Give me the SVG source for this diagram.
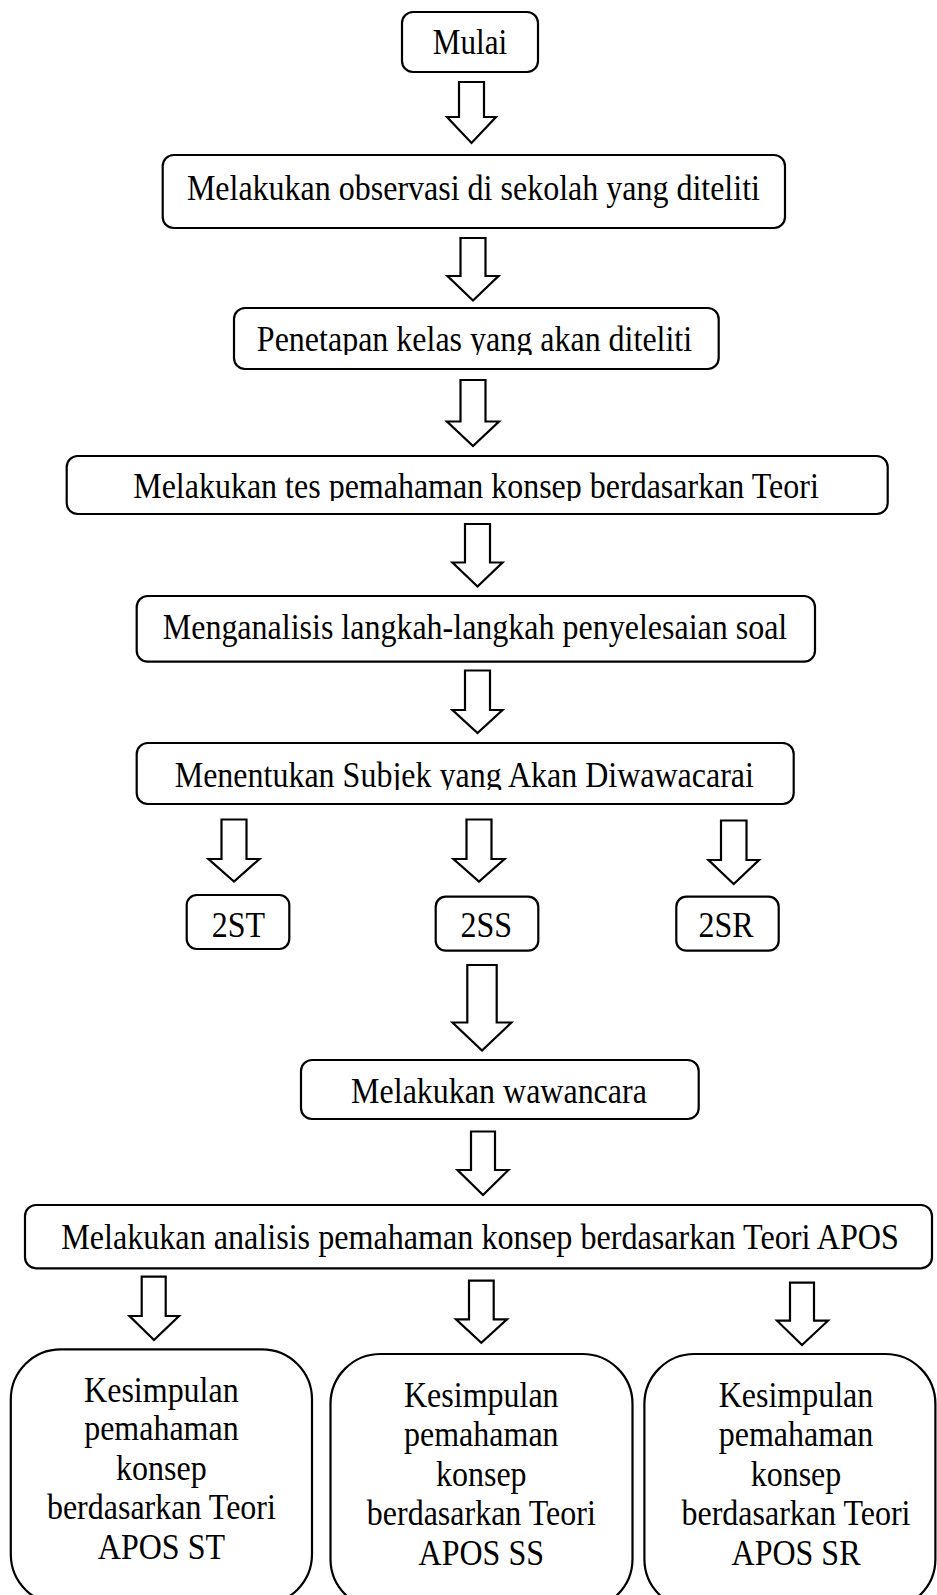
<svg xmlns="http://www.w3.org/2000/svg" width="937" height="1595" viewBox="0 0 937 1595">
<style>
.box{fill:#fff;stroke:#000;stroke-width:2.2}
.arr{fill:#fff;stroke:#000;stroke-width:2.2;stroke-linejoin:miter}
.t{font-family:"Liberation Serif","Times New Roman",serif;font-size:36px;fill:#000;text-anchor:middle}
</style>
<defs>
<clipPath id="c3"><rect x="234" y="308" width="485" height="47"/></clipPath>
<clipPath id="c4"><rect x="66" y="456" width="822" height="45"/></clipPath>
<clipPath id="c6"><rect x="136" y="743" width="658" height="47"/></clipPath>
<clipPath id="c7"><rect x="180" y="890" width="610" height="47.5"/></clipPath>
</defs>
<rect width="937" height="1595" fill="#fff"/>
<g id="connectors">
<polygon class="arr" points="459,82 484,82 484,117 496,117 471.5,143 447,117 459,117"/>
<polygon class="arr" points="460.5,238 485.5,238 485.5,276 498.5,276 473,300.5 447.5,276 460.5,276"/>
<polygon class="arr" points="460.5,380 485.5,380 485.5,421.5 499,421.5 473,446 447,421.5 460.5,421.5"/>
<polygon class="arr" points="465,524 490,524 490,562.5 502.5,562.5 477.5,586.5 452.5,562.5 465,562.5"/>
<polygon class="arr" points="465,670.5 490,670.5 490,710 502.5,710 477.5,733 452.5,710 465,710"/>
<polygon class="arr" points="221.5,819.5 246.5,819.5 246.5,859 259.5,859 234,881.5 208.5,859 221.5,859"/>
<polygon class="arr" points="466.5,819.5 491.5,819.5 491.5,859 504.5,859 479,881.5 453.5,859 466.5,859"/>
<polygon class="arr" points="721,820.5 746.5,820.5 746.5,860 759,860 733.7,884 708.5,860 721,860"/>
<polygon class="arr" points="467.3,965 496.7,965 496.7,1022.5 511.5,1022.5 482,1050.5 452.5,1022.5 467.3,1022.5"/>
<polygon class="arr" points="471,1131.5 495,1131.5 495,1170 508.5,1170 483,1195 457.5,1170 471,1170"/>
<polygon class="arr" points="141.7,1276.7 165.7,1276.7 165.7,1316 179,1316 154,1340 129.5,1316 141.7,1316"/>
<polygon class="arr" points="469,1280.7 493.7,1280.7 493.7,1319.3 507,1319.3 481.3,1342.7 456,1319.3 469,1319.3"/>
<polygon class="arr" points="790,1282.7 814,1282.7 814,1320.7 828,1320.7 802,1345 777,1320.7 790,1320.7"/>
</g>
<g id="mulai">
<rect class="box" x="402" y="12" width="136" height="60" rx="11"/>
<text class="t" transform="matrix(0.889 0 0 1 470 0)" x="0" y="54" style="font-size:35px">Mulai</text>
</g>
<g id="observasi">
<rect class="box" x="162.7" y="155" width="622.3" height="73" rx="11"/>
<text class="t" transform="matrix(0.889 0 0 1 473.4 0)" x="0" y="200">Melakukan observasi di sekolah yang diteliti</text>
</g>
<g id="penetapan">
<rect class="box" x="234" y="308" width="484.7" height="61" rx="11"/>
<g clip-path="url(#c3)"><text class="t" transform="matrix(0.889 0 0 1 474.5 0)" x="0" y="351.5">Penetapan kelas yang akan diteliti</text></g>
</g>
<g id="tes">
<rect class="box" x="66.7" y="456" width="821" height="58" rx="11"/>
<g clip-path="url(#c4)"><text class="t" transform="matrix(0.889 0 0 1 476 0)" x="0" y="498.5">Melakukan tes pemahaman konsep berdasarkan Teori</text></g>
</g>
<g id="menganalisis">
<rect class="box" x="136.7" y="596" width="678.3" height="65.7" rx="11"/>
<text class="t" transform="matrix(0.889 0 0 1 475 0)" x="0" y="639">Menganalisis langkah-langkah penyelesaian soal</text>
</g>
<g id="menentukan">
<rect class="box" x="136.7" y="743" width="657" height="61" rx="11"/>
<g clip-path="url(#c6)"><text class="t" transform="matrix(0.889 0 0 1 464.3 0)" x="0" y="787">Menentukan Subjek yang Akan Diwawacarai</text></g>
</g>
<g id="st">
<rect class="box" x="186.7" y="895" width="102.6" height="54" rx="10"/>
<g clip-path="url(#c7)"><text class="t" transform="matrix(0.889 0 0 1 238.4 0)" x="0" y="937">2ST</text></g>
</g>
<g id="ss">
<rect class="box" x="435.7" y="896.7" width="102.6" height="54" rx="10"/>
<g clip-path="url(#c7)"><text class="t" transform="matrix(0.889 0 0 1 486.2 0)" x="0" y="937">2SS</text></g>
</g>
<g id="sr">
<rect class="box" x="676.3" y="896.7" width="102.4" height="54" rx="10"/>
<g clip-path="url(#c7)"><text class="t" transform="matrix(0.889 0 0 1 726 0)" x="0" y="937">2SR</text></g>
</g>
<g id="wawancara">
<rect class="box" x="301" y="1060" width="397.7" height="59" rx="11"/>
<text class="t" transform="matrix(0.889 0 0 1 499 0)" x="0" y="1102.7">Melakukan wawancara</text>
</g>
<g id="analisis">
<rect class="box" x="25" y="1205" width="907" height="63.3" rx="11"/>
<text class="t" transform="matrix(0.893 0 0 1 480 0)" x="0" y="1249">Melakukan analisis pemahaman konsep berdasarkan Teori APOS</text>
</g>
<g id="kesimpulan-st">
<rect class="box" x="10.8" y="1349.3" width="301.2" height="255" rx="50"/>
<text class="t" transform="matrix(0.889 0 0 1 161.4 0)"><tspan x="0" y="1401.7">Kesimpulan</tspan><tspan x="0" y="1440.5">pemahaman</tspan><tspan x="0" y="1480">konsep</tspan><tspan x="0" y="1519.5">berdasarkan Teori</tspan><tspan x="0" y="1559">APOS ST</tspan></text>
</g>
<g id="kesimpulan-ss">
<rect class="box" x="330.5" y="1354" width="302" height="255" rx="50"/>
<text class="t" transform="matrix(0.889 0 0 1 481.3 0)"><tspan x="0" y="1406.7">Kesimpulan</tspan><tspan x="0" y="1446">pemahaman</tspan><tspan x="0" y="1486">konsep</tspan><tspan x="0" y="1525.5">berdasarkan Teori</tspan><tspan x="0" y="1565">APOS SS</tspan></text>
</g>
<g id="kesimpulan-sr">
<rect class="box" x="644.4" y="1354" width="291" height="255" rx="50"/>
<text class="t" transform="matrix(0.889 0 0 1 796 0)"><tspan x="0" y="1406.7">Kesimpulan</tspan><tspan x="0" y="1446">pemahaman</tspan><tspan x="0" y="1486">konsep</tspan><tspan x="0" y="1525.5">berdasarkan Teori</tspan><tspan x="0" y="1565">APOS SR</tspan></text>
</g>
</svg>
